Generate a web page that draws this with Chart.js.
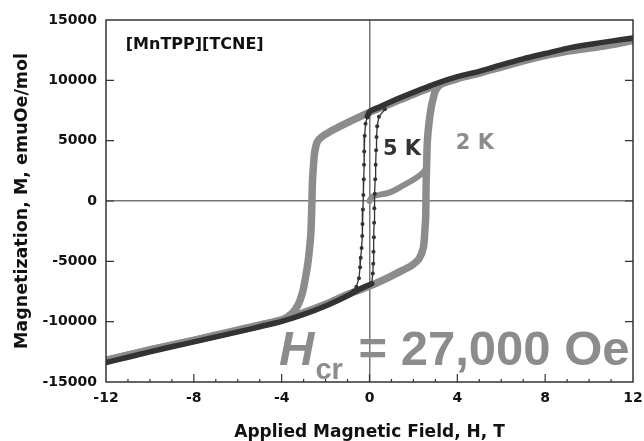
<!DOCTYPE html>
<html lang="en">
<head>
<meta charset="UTF-8">
<title>[MnTPP][TCNE] hysteresis</title>
<script src="https://cdn.jsdelivr.net/npm/chart.js"></script>
<style>
  html, body { margin: 0; padding: 0; background: #ffffff; }
  #wrap { width: 644px; height: 441px; }
</style>
</head>
<body>
<div id="wrap"><canvas id="loop"></canvas></div>
<script>
// axis ticks: field H in T, magnetization M in emuOe/mol
const fieldTicks = [-12, -8, -4, 0, 4, 8, 12];
const magTicks = [-15000, -10000, -5000, 0, 5000, 10000, 15000];

// 5 K loop - shared high-field parts (thick dark)
const upper5K_H = [12, 11, 10, 9, 8, 7, 6, 5, 4, 3, 2, 1, 0.5, 0, -0.1];
const upper5K_M = [13500, 13250, 12970, 12650, 12220, 11780, 11280, 10750, 10300, 9700, 9000, 8250, 7820, 7400, 7000];
const lower5K_H = [-12, -11, -10, -9, -8, -7, -6, -5, -4, -3, -2, -1, -0.5, 0, 0.1];
const lower5K_M = [-13380, -12950, -12500, -12080, -11680, -11260, -10850, -10420, -9980, -9400, -8700, -7850, -7350, -6950, -6850];
// 5 K switching branches (thin, with dots)
const drop5K_H = [-0.1, -0.18, -0.22, -0.24, -0.25, -0.26, -0.28, -0.3, -0.32, -0.33, -0.36, -0.4, -0.43, -0.48, -0.6, -0.75];
const drop5K_M = [6990, 6400, 5400, 4100, 3000, 1800, 500, -700, -1900, -2900, -3900, -4700, -5500, -6400, -7100, -7450];
const rise5K_H = [0.1, 0.15, 0.17, 0.18, 0.2, 0.21, 0.22, 0.24, 0.26, 0.28, 0.3, 0.32, 0.35, 0.43, 0.7];
const rise5K_M = [-6850, -6000, -5200, -4200, -3000, -1800, -600, 600, 1800, 3000, 4200, 5300, 6200, 6990, 7600];

// 2 K loop (thick gray)
const down2K_H = [12, 10.5, 9, 7.5, 6, 5, 4, 3, 2, 1, 0, -1, -1.6, -2.15, -2.38, -2.5, -2.55, -2.6, -2.62, -2.67, -2.75, -2.83, -2.95, -3.06, -3.25, -3.52, -3.97, -5, -6.5, -8, -10, -12];
const down2K_M = [13300, 12800, 12400, 11850, 11100, 10600, 10150, 9550, 8850, 8100, 7350, 6500, 5950, 5350, 4900, 4000, 3000, 1500, 0, -2650, -4300, -5450, -6700, -7650, -8600, -9300, -9850, -10300, -10950, -11550, -12350, -13200];
const up2K_H = [-12, -10, -8, -6, -4, -3, -2, -1, 0, 0.9, 1.5, 1.95, 2.25, 2.45, 2.52, 2.56, 2.57, 2.58, 2.6, 2.63, 2.7, 2.79, 2.9, 3.02, 3.3, 3.7, 4];
const up2K_M = [-13200, -12350, -11550, -10700, -9850, -9250, -8550, -7750, -7050, -6300, -5750, -5300, -4800, -3900, -2500, -1300, 0, 1500, 2800, 4780, 6300, 7540, 8500, 9200, 9750, 10000, 10150];
const virgin2K_H = [0, 0.13, 0.9, 1.5, 2.1, 2.48, 2.6];
const virgin2K_M = [0, 360, 700, 1250, 1880, 2430, 2800];

const pts = (hs, ms) => hs.map((h, i) => ({ x: h, y: ms[i] }));

const DARK = '#333333';
const GRAY = '#8c8c8c';
const TICK_FONT = { family: 'DejaVu Sans', size: 14, weight: 'bold' };

function thick(data, color, width, order) {
    return {
        data: data,
        showLine: true,
        borderColor: color,
        backgroundColor: color,
        borderWidth: width,
        borderCapStyle: 'round',
        borderJoinStyle: 'round',
        pointRadius: 0,
        tension: 0.3,
        order: order
    };
}

function dotted(data) {
    return {
        data: data,
        showLine: true,
        borderColor: DARK,
        backgroundColor: DARK,
        borderWidth: 1.3,
        pointRadius: 2,
        pointBorderWidth: 0,
        tension: 0,
        order: 0
    };
}

// frame, inward tick marks and the text notes
const decorations = {
    id: 'decorations',
    beforeDatasetsDraw(chart) {
        const { ctx, scales: { x, y } } = chart;
        ctx.save();
        ctx.fillStyle = GRAY;
        ctx.textBaseline = 'alphabetic';
        ctx.textAlign = 'left';
        let px = x.getPixelForValue(-4.12);
        const base = y.getPixelForValue(-13600);
        ctx.font = 'italic bold 49px "Liberation Sans"';
        ctx.fillText('H', px, base);
        px += ctx.measureText('H').width + 1;
        ctx.font = 'bold 29px "Liberation Sans"';
        ctx.fillText('cr', px, y.getPixelForValue(-14750));
        px += ctx.measureText('cr').width + 2;
        ctx.font = 'bold 49px "Liberation Sans"';
        ctx.fillText(' = 27,000 Oe', px, base);
        ctx.restore();
    },
    afterDraw(chart) {
        const { ctx, chartArea: a, scales: { x, y } } = chart;
        ctx.save();
        ctx.strokeStyle = DARK;
        ctx.lineWidth = 1.5;
        ctx.strokeRect(a.left, a.top, a.right - a.left, a.bottom - a.top);
        ctx.lineWidth = 1.2;
        ctx.beginPath();
        for (let v = -11; v <= 11; v++) {
            const px = x.getPixelForValue(v);
            const len = v % 4 === 0 ? 8 : 3;
            ctx.moveTo(px, a.bottom);
            ctx.lineTo(px, a.bottom - len);
        }
        magTicks.forEach(v => {
            if (v === magTicks[0] || v === magTicks[magTicks.length - 1]) return;
            const py = y.getPixelForValue(v);
            ctx.moveTo(a.left, py);
            ctx.lineTo(a.left + 8, py);
            ctx.moveTo(a.right, py);
            ctx.lineTo(a.right - 8, py);
        });
        ctx.stroke();

        ctx.textAlign = 'left';
        ctx.textBaseline = 'middle';
        ctx.fillStyle = '#111111';
        ctx.font = 'bold 16px "DejaVu Sans"';
        ctx.fillText('[MnTPP][TCNE]', x.getPixelForValue(-11.1), y.getPixelForValue(12900));
        ctx.font = 'bold 21px "DejaVu Sans"';
        ctx.fillStyle = DARK;
        ctx.fillText('5 K', x.getPixelForValue(0.61), y.getPixelForValue(4270));
        ctx.fillStyle = GRAY;
        ctx.fillText('2 K', x.getPixelForValue(3.93), y.getPixelForValue(4750));
        ctx.restore();
    }
};

const zeroLine = c => (c.tick && c.tick.value === 0) ? '#777777' : 'rgba(0,0,0,0)';

new Chart(document.getElementById('loop'), {
    type: 'scatter',
    data: {
        datasets: [
            thick(pts(upper5K_H, upper5K_M), DARK, 5.5, 0),
            thick(pts(lower5K_H, lower5K_M), DARK, 5.5, 0),
            dotted(pts(drop5K_H, drop5K_M)),
            dotted(pts(rise5K_H, rise5K_M)),
            thick(pts(down2K_H, down2K_M), GRAY, 7.5, 1),
            thick(pts(up2K_H, up2K_M), GRAY, 7.5, 1),
            thick(pts(virgin2K_H, virgin2K_M), GRAY, 6, 1)
        ]
    },
    options: {
        responsive: true,
        maintainAspectRatio: false,
        animation: false,
        layout: { padding: { top: 20, right: 11, bottom: 0, left: 0 } },
        plugins: {
            legend: { display: false },
            tooltip: { enabled: false }
        },
        scales: {
            x: {
                type: 'linear',
                min: -12,
                max: 12,
                afterBuildTicks: s => { s.ticks = fieldTicks.map(v => ({ value: v })); },
                afterFit: s => { s.height = 59; s.paddingLeft = 0; s.paddingRight = 0; },
                ticks: {
                    color: '#111111',
                    font: TICK_FONT,
                    padding: 8,
                    callback: v => String(v)
                },
                grid: { color: zeroLine, lineWidth: 1.5, drawTicks: false },
                border: { display: false },
                title: {
                    display: true,
                    text: 'Applied Magnetic Field, H, T',
                    color: '#111111',
                    font: { family: 'DejaVu Sans', size: 17, weight: 'bold', lineHeight: 1 },
                    padding: 0
                }
            },
            y: {
                type: 'linear',
                min: -15000,
                max: 15000,
                afterBuildTicks: s => { s.ticks = magTicks.map(v => ({ value: v })); },
                afterFit: s => { s.width = 106; s.paddingTop = 0; s.paddingBottom = 0; },
                ticks: {
                    color: '#111111',
                    font: TICK_FONT,
                    padding: 9,
                    callback: v => String(v)
                },
                grid: { color: zeroLine, lineWidth: 1.5, drawTicks: false },
                border: { display: false },
                title: {
                    display: true,
                    text: 'Magnetization, M, emuOe/mol',
                    color: '#111111',
                    font: { family: 'DejaVu Sans', size: 17.5, weight: 'bold', lineHeight: 1.2 },
                    padding: { top: 12, bottom: 0 }
                }
            }
        }
    },
    plugins: [decorations]
});
</script>
</body>
</html>
